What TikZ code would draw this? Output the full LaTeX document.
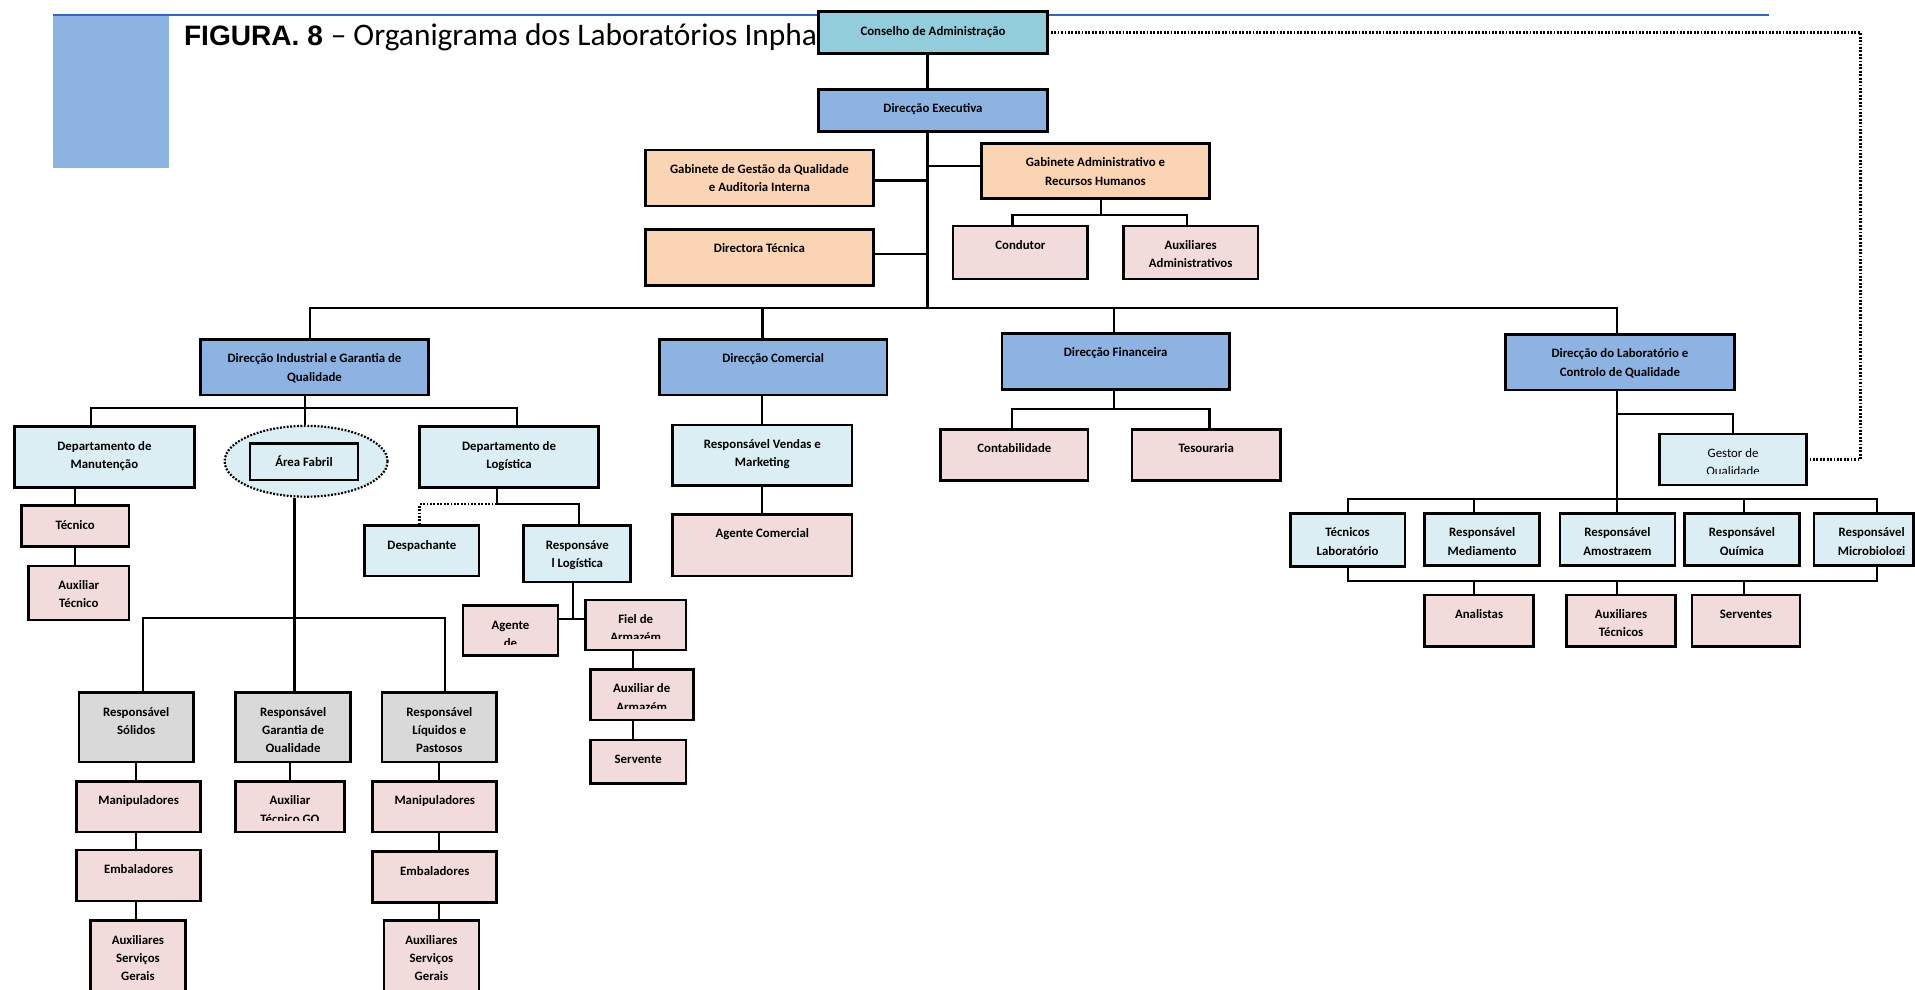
\documentclass[tikz,border=0pt]{standalone}
\usepackage{fontspec}
\usetikzlibrary{shapes.geometric,calc}
\newfontfamily\carl{Carlito}
\newfontfamily\arl{Liberation Sans}
\definecolor{consfill}{HTML}{92CDDC}
\definecolor{dirfill}{HTML}{8DB3E2}
\definecolor{peachf}{HTML}{FBD4B4}
\definecolor{pinkf}{HTML}{F2DCDB}
\definecolor{ltbluef}{HTML}{DAEEF3}
\definecolor{grayf}{HTML}{D9D9D9}
\definecolor{rulec}{HTML}{3366CC}

\tikzset{
  txs/.store in=\orgtxs,
  clipb/.store in=\orgclipb,
  orgbox/.style={draw=black, line width=2.2pt, rectangle, inner sep=0pt,
    outer sep=0pt, txs=0pt, clipb=9pt},
  boxtext/.style={draw=none, fill=none, inner sep=0pt, anchor=north,
    minimum width=0pt, minimum height=0pt, path picture={},
    align=center, text=black, font=\carl\bfseries\fontsize{10.5}{15}\selectfont},
  cons/.style={fill=consfill},
  dir/.style={fill=dirfill},
  peach/.style={fill=peachf},
  pinkbox/.style={fill=pinkf},
  light/.style={fill=ltbluef},
  grey/.style={fill=grayf},
  conn/.style={draw=black, line width=1.8pt, line join=miter},
  dotconn/.style={draw=black, line width=1.8pt, dash pattern=on 1.5pt off 1.3pt},
}

% box with top-aligned text, clipped to its inner margin
% #1 name, #2 x1, #3 y1, #4 x2, #5 y2, #6 style, #7 text
\newcommand\orgnode[7]{%
  \node[orgbox,#6,minimum width={#4pt-#2pt},minimum height={#5pt-#3pt},
    path picture={
      \clip ([shift={(7pt,\orgclipb)}]path picture bounding box.south west)
        rectangle ([shift={(-7pt,-7pt)}]path picture bounding box.north east);
      \node[boxtext] (#1-t) at ([xshift=\orgtxs,yshift=-7.3pt]path picture bounding box.north)
        {\rule{0pt}{12pt}#7};
    }] (#1) at ({(#2+#4)/2},{(#3+#5)/2}) {};}

\begin{document}
\begin{tikzpicture}[x=1pt,y=-1pt]
\useasboundingbox (0,0) rectangle (1568,810);
\fill[white] (0,0) rectangle (1568,810);

% heading
\coordinate (ruleL) at (43.6,12.3);
\coordinate (ruleR) at (1448.6,12.3);
\node[fill=dirfill, inner sep=0pt, minimum width=94.8pt, minimum height=125pt] (tag) at (91,74.8) {};
\draw[rulec, line width=1.8pt] (ruleL) -- (ruleR);
\node[anchor=base west, inner sep=0pt] (title) at (150.5,37)
  {\arl\fontsize{23}{27}\selectfont\bfseries FIGURA. 8 \mdseries\carl\fontsize{25.7}{30}\selectfont – Organigrama dos Laboratórios Inpha};

% top management
\orgnode{cons}{670.3}{9.6}{857.6}{43.7}{cons}{Conselho de Administração}
\orgnode{dexec}{670.3}{73.1}{857.6}{107.8}{dir}{Direcção Executiva}
\orgnode{ggq}{528.5}{122.8}{715.1}{168.7}{peach}{Gabinete de Gestão da Qualidade\\e Auditoria Interna}
\orgnode{gar}{803.7}{117.4}{990.2}{162.4}{peach}{Gabinete Administrativo e\\Recursos Humanos}
\orgnode{dtec}{528.5}{187.8}{715.1}{233.9}{peach}{Directora Técnica}
\orgnode{cond}{780.4}{185}{890.6}{228.4}{pinkbox}{Condutor}
\orgnode{auxa}{919.8}{185}{1030}{228.4}{pinkbox}{Auxiliares\\Administrativos}

% directorates
\orgnode{dind}{164}{277.8}{351}{323.4}{dir}{Direcção Industrial e Garantia de\\Qualidade}
\orgnode{dcom}{539.9}{277.8}{726.3}{323.4}{dir}{Direcção Comercial}
\orgnode{dfin}{820.3}{272.9}{1006.7}{318.8}{dir}{Direcção Financeira}
\orgnode{dlab}{1232.6}{273.8}{1420.1}{319.3}{dir}{Direcção do Laboratório e\\Controlo de Qualidade}

% industrial branch
\orgnode{dman}{12}{349.4}{159}{399.3}{light}{Departamento de\\Manutenção}
\node[ellipse, draw=black, fill=ltbluef, line width=1.8pt, dash pattern=on 1.5pt off 1.3pt,
  minimum width=133.4pt, minimum height=58pt, inner sep=0pt] (fab) at (250.6,377.7) {};
\orgnode{afab}{204.7}{363}{293.2}{393}{light}{Área Fabril}
\orgnode{dlog}{343.6}{349.4}{490}{399.3}{light}{Departamento de\\Logística}
\orgnode{tec}{17.5}{414}{105.6}{447.6}{pinkbox}{Técnico}
\orgnode{auxt}{23.4}{463.4}{105.6}{507.7}{pinkbox}{Auxiliar\\Técnico}
\orgnode{desp}{298.7}{430.4}{392.2}{471.6}{light}{Despachante}
\orgnode{rlog}{428.8}{430.4}{516.5}{476.5}{light}{Responsáve\\l Logística}
\orgnode{agl}{379}{496}{457}{536.9}{pinkbox}{Agente\\de}
\orgnode{fiel}{479.2}{491.3}{561.8}{532.2}{pinkbox}{Fiel de\\Armazém}
\orgnode{auxarm}{483.3}{548}{567.6}{589.5}{pinkbox}{Auxiliar de\\Armazém}
\orgnode{serv}{483.3}{606}{561.8}{641.7}{pinkbox}{Servente}
\orgnode{rsol}{64.7}{567}{158.3}{624}{grey}{Responsável\\Sólidos}
\orgnode{rgq}{193}{567}{287}{624}{grey}{Responsável\\Garantia de\\Qualidade}
\orgnode{rliq}{312.9}{567}{406.5}{624}{grey}{Responsável\\Líquidos e\\Pastosos}
\orgnode{man1}{62.9}{639.7}{164.1}{681.2}{pinkbox}{Manipuladores}
\orgnode{agq}{193}{639.7}{281.8}{681.2}{pinkbox}{Auxiliar\\Técnico GQ}
\orgnode{man2}{305.2}{639.7}{406.8}{681.2}{pinkbox}{Manipuladores}
\orgnode{emb1}{62.9}{696}{164.1}{737.7}{pinkbox}{Embaladores}
\orgnode{emb2}{305.2}{697.4}{406.8}{738.8}{pinkbox}{Embaladores}
\orgnode{asg1}{74.2}{753.9}{151.7}{830}{pinkbox}{Auxiliares\\Serviços\\Gerais}
\orgnode{asg2}{314.3}{753.9}{392.2}{830}{pinkbox}{Auxiliares\\Serviços\\Gerais}

% commercial and financial branches
\orgnode{rvm}{550.9}{348}{697.5}{397.7}{light}{Responsável Vendas e\\Marketing}
\orgnode{agc}{550.9}{421.1}{697.5}{471.6}{pinkbox}{Agente Comercial}
\orgnode{cont}{770.2}{351.5}{890.9}{393.6}{pinkbox}{Contabilidade}
\orgnode{tes}{926.9}{351.5}{1048.4}{393.6}{pinkbox}{Tesouraria}

% laboratory branch
\orgnode{gest}{1358.6}{355.4}{1479.4}{397.1}{light}{\mdseries Gestor de\\\mdseries Qualidade}
\orgnode{tlab}{1056.5}{420.3}{1150.3}{464}{light}{Técnicos\\Laboratório}
\orgnode{rmed}{1166.6}{420.3}{1260.6}{463}{light}{Responsável\\Mediamento}
\orgnode{ramo}{1277.3}{420.3}{1371.4}{463}{light}{Responsável\\Amostragem}
\orgnode{rqui}{1379.4}{420.3}{1473.2}{463}{light}{Responsável\\Química}
\orgnode{rmic}{1485.3}{420.3}{1566.6}{463}{light,txs=6.5pt}{Responsável\\Microbiologi}
\orgnode{anal}{1166.6}{487.2}{1255.5}{529.5}{pinkbox}{Analistas}
\orgnode{auxtc}{1282.9}{487.2}{1371.8}{529.5}{pinkbox}{Auxiliares\\Técnicos}
\orgnode{serv2}{1385.3}{487.2}{1473.9}{529.5}{pinkbox}{Serventes}

% ---- connectors ----
\coordinate (trunk) at (759.5,252);
\draw[conn] (cons.south -| trunk) -- (dexec.north -| trunk);
\draw[conn] (dexec.south -| trunk) -- (trunk);
\draw[conn] ([yshift=-2pt]ggq.east) -- ([yshift=-2pt]ggq.east -| trunk);
\draw[conn] ([yshift=4.2pt]gar.west) -- ([yshift=4.2pt]gar.west -| trunk);
\draw[conn] ([yshift=2.9pt]dtec.east) -- ([yshift=2.9pt]dtec.east -| trunk);

\coordinate (garbus) at (901.8,176);
\draw[conn] (gar.south -| garbus) -- (garbus);
\draw[conn] ([xshift=-6.4pt]cond.north) |- (garbus) -| ([xshift=-3.2pt]auxa.north);

% main bus to the directorates
\draw[conn] ([xshift=-3.5pt]dind.north) |- (trunk) -| ([xshift=-2.3pt]dlab.north);
\draw[conn] ([xshift=-8.7pt]dcom.north) -- ([xshift=-8.7pt]dcom.north |- trunk);
\draw[conn] ([xshift=-1.1pt]dfin.north) -- ([xshift=-1.1pt]dfin.north |- trunk);

% industrial
\coordinate (indbus) at (249.6,334.3);
\draw[conn] (dind.south -| indbus) -- (indbus);
\draw[conn] ([xshift=-11.3pt]dman.north) |- (indbus) -| ([xshift=6.2pt]dlog.north);
\draw[conn] (indbus) -- (indbus |- fab.north);
\draw[conn] (dman.south -| tec.north) -- (tec.north);
\draw[conn] (tec.south) -- (tec.south |- auxt.north);

\coordinate (prodbus) at (241.2,506.3);
\draw[conn] (prodbus |- rgq.north) -- (prodbus |- fab.south);
\draw[conn] ([xshift=5.5pt]rsol.north) |- (prodbus) -| ([xshift=4.7pt]rliq.north);
\draw[conn] (rsol.south) -- (rsol.south |- man1.north);
\draw[conn] (man1.south -| rsol.south) -- (emb1.north -| rsol.south);
\draw[conn] (emb1.south -| rsol.south) -- (asg1.north -| rsol.south);
\draw[conn] (agq.north |- rgq.south) -- (agq.north);
\draw[conn] (rliq.south) -- (rliq.south |- man2.north);
\draw[conn] (man2.south -| rliq.south) -- (emb2.north -| rliq.south);
\draw[conn] (emb2.south -| rliq.south) -- (asg2.north -| rliq.south);

% logistics
\coordinate (logj) at (406.8,413);
\draw[conn] (dlog.south -| logj) -- (logj) -| ([xshift=1.4pt]rlog.north);
\draw[dotconn] (logj) -| ([xshift=-1.9pt]desp.north);
\coordinate (logj2) at (469,506.8);
\draw[conn] (rlog.south -| logj2) -- (logj2);
\draw[conn] (agl.east |- logj2) -- (fiel.west |- logj2);
\coordinate (armx) at (518.3,560);
\draw[conn] (fiel.south -| armx) -- (auxarm.north -| armx);
\draw[conn] (auxarm.south -| armx) -- (serv.north -| armx);

% commercial
\draw[conn] (rvm.north |- dcom.south) -- (rvm.north);
\draw[conn] (rvm.south) -- (rvm.south |- agc.north);

% financial
\coordinate (finbus) at (912.4,335.2);
\draw[conn] (dfin.south -| finbus) -- (finbus);
\draw[conn] ([xshift=-2.2pt]cont.north) |- (finbus) -| ([xshift=2.7pt]tes.north);

% laboratory
\coordinate (labx) at (1324.2,300);
\coordinate (gbr) at (1324.2,339.3);
\coordinate (labbus) at (1324.2,408.9);
\coordinate (labbus2) at (1324.2,475.7);
\draw[conn] (dlab.south -| labx) -- (ramo.north -| labx);
\draw[conn] (gbr) -| (gest.north);
\draw[conn] (tlab.north) |- (labbus) -| ([xshift=10.85pt]rmic.north);
\draw[conn] ([xshift=-6.8pt]rmed.north) -- ([xshift=-6.8pt]rmed.north |- labbus);
\draw[conn] ([xshift=1.4pt]rqui.north) -- ([xshift=1.4pt]rqui.north |- labbus);
\draw[conn] (tlab.south) |- (labbus2) -| ([xshift=10.85pt]rmic.south);
\draw[conn] ([xshift=-4.25pt]anal.north) -- ([xshift=-4.25pt]anal.north |- labbus2);
\draw[conn] (auxtc.north -| labx) -- (labbus2);
\draw[conn] ([xshift=-1.9pt]serv2.north) -- ([xshift=-1.9pt]serv2.north |- labbus2);

% quality manager reports to the board
\coordinate (fbx) at (1523.4,27.3);
\draw[dotconn] (cons.east) -| (fbx |- gest.east) -- (gest.east);
\end{tikzpicture}
\end{document}
